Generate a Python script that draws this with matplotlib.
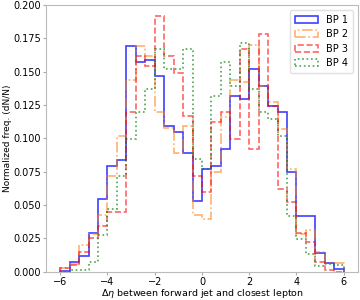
import numpy as np
import matplotlib
matplotlib.use("Agg")
import matplotlib.pyplot as plt

# 30 bins of width 0.4 between -6 and 6, density-normalised heights
bin_edges = np.linspace(-6, 6, 31)

bp1 = [0.0005, 0.0072, 0.0117, 0.029, 0.0546, 0.079, 0.084, 0.169, 0.157, 0.159,
       0.147, 0.1096, 0.1047, 0.0893, 0.0526, 0.0769, 0.0794, 0.0918, 0.1315, 0.1295,
       0.152, 0.139, 0.1245, 0.1196, 0.0744, 0.042, 0.042, 0.014, 0.0065, 0.002]
bp2 = [0.003, 0.0058, 0.0196, 0.028, 0.0426, 0.072, 0.102, 0.144, 0.169, 0.162,
       0.1196, 0.108, 0.0893, 0.1096, 0.0427, 0.0397, 0.0744, 0.116, 0.144, 0.142,
       0.1697, 0.139, 0.127, 0.1067, 0.0769, 0.028, 0.031, 0.0145, 0.0067, 0.0067]
bp3 = [0.003, 0.0046, 0.0145, 0.025, 0.0345, 0.0444, 0.045, 0.1196, 0.162, 0.154,
       0.1915, 0.162, 0.149, 0.117, 0.072, 0.0595, 0.112, 0.1196, 0.0997, 0.1667,
       0.092, 0.1786, 0.1245, 0.062, 0.052, 0.029, 0.022, 0.007, 0.0012, 0.0]
bp4 = [0.0, 0.001, 0.001, 0.007, 0.0275, 0.047, 0.072, 0.0997, 0.1196, 0.137,
       0.1667, 0.152, 0.152, 0.1667, 0.0843, 0.0769, 0.132, 0.157, 0.139, 0.1717,
       0.137, 0.1196, 0.1146, 0.102, 0.042, 0.0245, 0.0135, 0.004, 0.006, 0.0047]

labels = ["BP 1", "BP 2", "BP 3", "BP 4"]
colors = ["blue", "tab:orange", "red", "green"]
styles = ["-", "-.", "--", ":"]
alphas = [0.75, 0.6, 0.6, 0.7]

fig = plt.figure(figsize=(3.6, 3.0), dpi=100)
ax = fig.add_axes([0.128, 0.095, 0.866, 0.888])

centers = 0.5 * (bin_edges[:-1] + bin_edges[1:])
for vals, lab, c, ls, a in zip([bp1, bp2, bp3, bp4], labels, colors, styles, alphas):
    ax.hist(centers, bins=bin_edges, weights=vals, histtype="step",
            color=c, linestyle=ls, linewidth=1.2, alpha=a, label=lab)

ax.set_ylim(0, 0.2)
ax.set_yticks(np.arange(0, 0.2001, 0.025))
ax.set_xticks([-6, -4, -2, 0, 2, 4, 6])
ax.set_xlabel(r"$\Delta\eta$ between forward jet and closest lepton", fontsize=6.8, labelpad=0)
ax.set_ylabel("Normalized freq. (dN/N)", fontsize=6.5, labelpad=1)
ax.tick_params(labelsize=7, color="#aaaaaa", length=2.5, pad=1.2)
for s in ax.spines.values():
    s.set_color("#bbbbbb")

ax.legend(loc="upper right", fontsize=7, handlelength=2.4, framealpha=1,
          edgecolor="#e0e0e0", borderpad=0.5, labelspacing=0.45)

fig.savefig("out.png", dpi=100)
